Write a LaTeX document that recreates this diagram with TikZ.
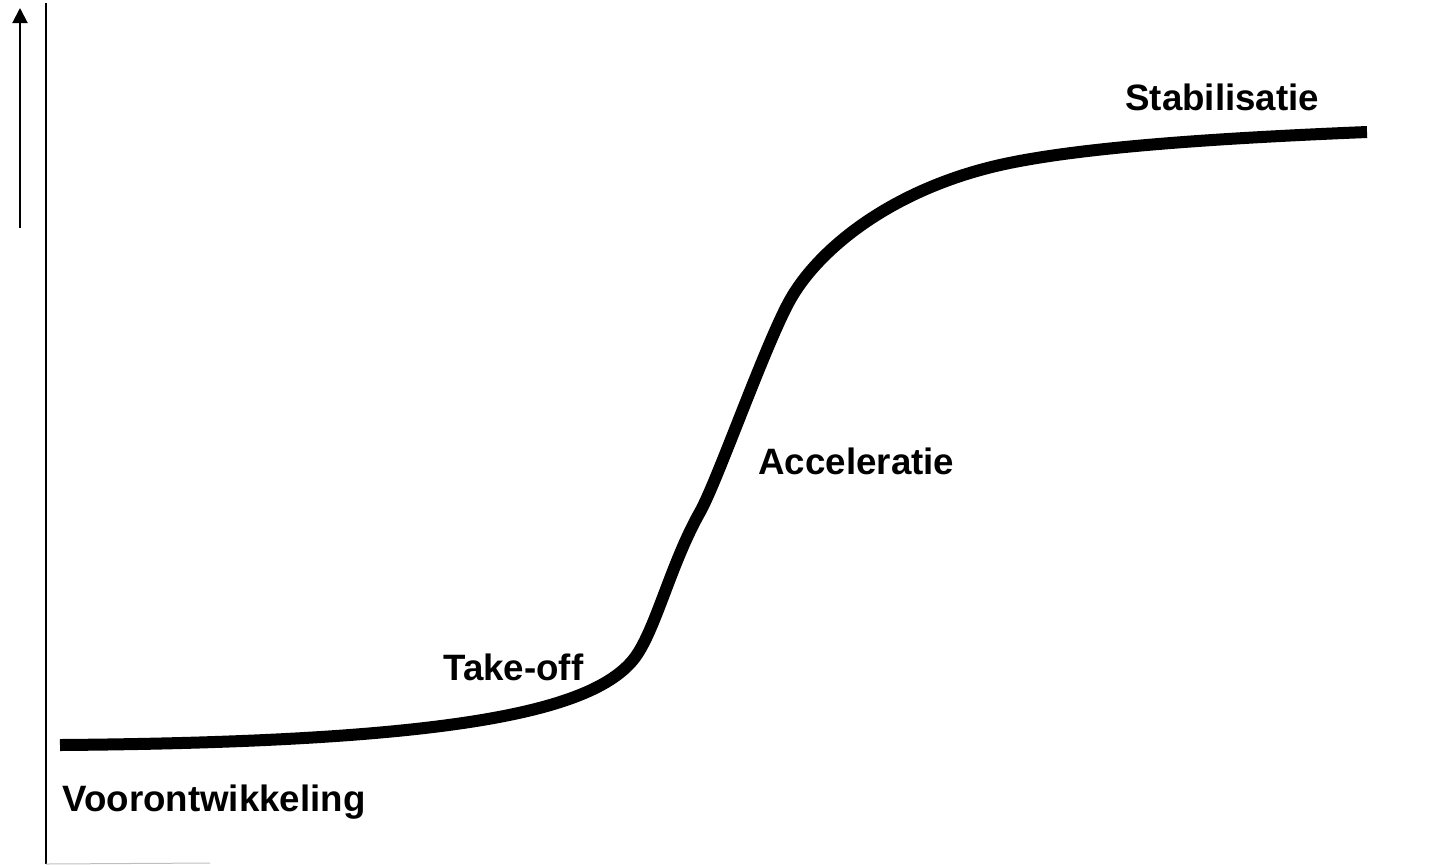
\documentclass[tikz,border=0pt]{standalone}
\usepackage{fontspec}
\setmainfont{Liberation Sans}
\usepackage{tikz}
\usetikzlibrary{arrows.meta,positioning}
\tikzset{
  phaselabel/.style={anchor=base west, inner sep=0pt, font=\fontsize{18.35}{22}\selectfont\bfseries},
  axisline/.style={line width=1pt},
  scurve/.style={line width=6pt, line cap=butt, line join=round},
  uparrow/.style={-{Triangle[length=7.5pt,width=7.5pt]}, line width=1pt}
}

\begin{document}
\begin{tikzpicture}[x=0.5pt, y=-0.5pt]
  \useasboundingbox (0,0) rectangle (1450,864);
  % axes
  \coordinate (axtop) at (46,3);
  \coordinate (axbot) at (46,864);
  \coordinate (xend) at (210,863);
  \draw[axisline] (axtop) -- (axbot);
  \draw[black!25, line width=0.5pt] (axbot) -- (xend);
  \coordinate (arrbot) at (20,228);
  \coordinate (arrtop) at (20,8);
  \draw[uparrow] (arrbot) -- (arrtop);
  % development curve
  \coordinate (start) at (60,745);
  \coordinate (rise) at (633,660);
  \coordinate (knee) at (700,512);
  \coordinate (steep) at (790,300);
  \coordinate (bend) at (1000,165);
  \coordinate (finish) at (1367,132);
  \draw[scurve] (start)
    .. controls (450,742) and (590,712) .. (rise)
    .. controls (655,633) and (670,565) .. (knee)
    .. controls (717,482) and (765,345) .. (steep)
    .. controls (818,250) and (890,190) .. (bend)
    .. controls (1080,147) and (1220,138) .. (finish);
  % phases
  \node[phaselabel] (voor) at (62,811) {Voorontwikkeling};
  \node[phaselabel] (takeoff) at (443,680) {Take-off};
  \node[phaselabel] (accel) at (758,474) {Acceleratie};
  \node[phaselabel] (stab) at (1125,110) {Stabilisatie};
\end{tikzpicture}
\end{document}
